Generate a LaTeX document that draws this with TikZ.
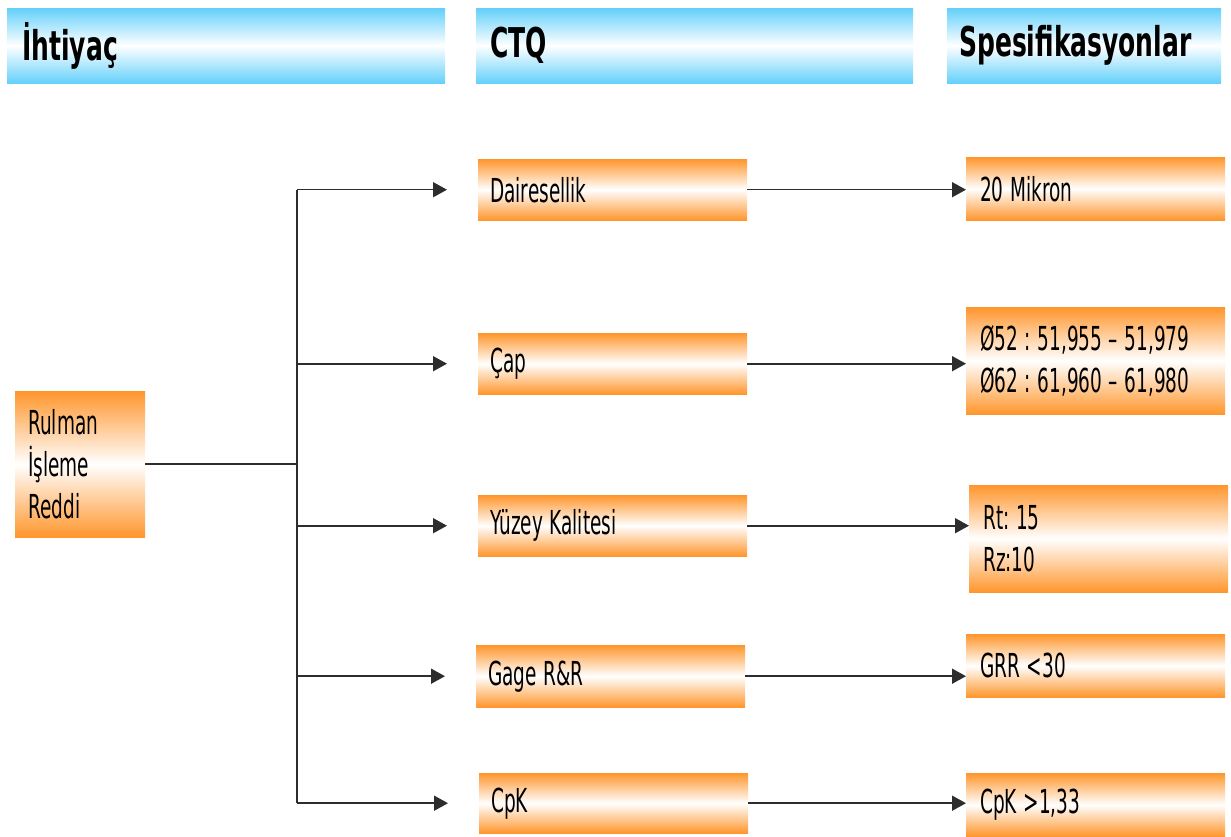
\documentclass[tikz,border=0pt]{standalone}
\usepackage{fontspec}
\setmainfont{DejaVu Sans}[FakeStretch=0.56, BoldFeatures={FakeStretch=0.61}]
\usepackage{tikz}
\usetikzlibrary{arrows.meta,shadings}
\definecolor{kutuorange}{RGB}{255,150,45}
\definecolor{basblue}{RGB}{100,208,250}
\definecolor{okgray}{RGB}{45,45,45}
\newcommand{\bsk}{\hspace{0.2em}}
\tikzset{
	header/.style={anchor=north west, top color=basblue, bottom color=basblue, middle color=white,
		minimum height=75pt, inner xsep=15pt, align=left, font=\bfseries\fontsize{41}{48}\selectfont},
	kutu/.style={anchor=north west, top color=kutuorange, bottom color=kutuorange, middle color=white,
		inner xsep=13pt, align=left, font=\fontsize{33}{42}\selectfont},
	ok/.style={draw=okgray, line width=1.6pt, -{Triangle[length=14pt,width=15pt]}},
	hat/.style={draw=okgray, line width=1.6pt}
}
\begin{document}
\begin{tikzpicture}[x=1pt,y=-1pt]
		%%%%% START %%%%%
		\useasboundingbox (0,0) rectangle (1231,837);
		
		\node[header, text width=408pt] (ihtiyac) at (7,8) {İhtiyaç};
		\node[header, text width=409pt, inner xsep=14pt] (ctq) at (476,8) {CTQ};
		\node[header, text width=250pt, inner xsep=12pt] (spek) at (947,8) {Spesifikasyonlar};
		
		\node[kutu, text width=104pt, minimum height=146pt] (rulman) at (15,391) {Rulman\\İşleme\\Reddi};
		
		\node[kutu, text width=245pt, inner xsep=12pt, minimum height=61pt] (daire) at (478,159) {Dairesellik};
		\node[kutu, text width=245pt, inner xsep=12pt, minimum height=61pt] (cap) at (478,333) {Çap};
		\node[kutu, text width=245pt, inner xsep=12pt, minimum height=61pt] (yuzey) at (478,495) {Yüzey\bsk Kalitesi};
		\node[kutu, text width=245pt, inner xsep=12pt, minimum height=62pt] (gage) at (476,645) {Gage\bsk R\&R};
		\node[kutu, text width=245pt, inner xsep=12pt, minimum height=60pt] (cpk) at (479,773) {CpK};
		
		\node[kutu, text width=231pt, inner xsep=14pt, minimum height=63pt] (mikron) at (966,157) {20\bsk Mikron};
		\node[kutu, text width=231pt, inner xsep=14pt, minimum height=107pt] (olcu) at (966,307)
			{Ø52\bsk:\bsk 51,955\bsk–\bsk 51,979\\Ø62\bsk:\bsk 61,960\bsk–\bsk 61,980};
		\node[kutu, text width=231pt, inner xsep=14pt, minimum height=107pt] (rt) at (969,485) {Rt:\bsk 15\\Rz:10};
		\node[kutu, text width=231pt, inner xsep=14pt, minimum height=63pt] (grr) at (966,634) {GRR\bsk <30};
		\node[kutu, text width=231pt, inner xsep=14pt, minimum height=63pt] (cpkspek) at (966,773) {CpK\bsk >1,33};
		
		\coordinate (govde) at (297,0);
		\draw[hat] (rulman.east) -- (rulman.east -| govde);
		\draw[hat] (govde |- daire.west) -- (govde |- cpk.west);
		
		\foreach \n in {daire,cap,yuzey,gage,cpk}
			\draw[ok, shorten >=31pt] (govde |- \n.west) -- (\n.west);
		
		\draw[ok] (daire.east) -- (daire.east -| mikron.west);
		\draw[ok] (cap.east) -- (cap.east -| olcu.west);
		\draw[ok] (yuzey.east) -- (yuzey.east -| rt.west);
		\draw[ok] (gage.east) -- (gage.east -| grr.west);
		\draw[ok] (cpk.east) -- (cpk.east -| cpkspek.west);
		%%%%% END %%%%%
	\end{tikzpicture}
\end{document}
